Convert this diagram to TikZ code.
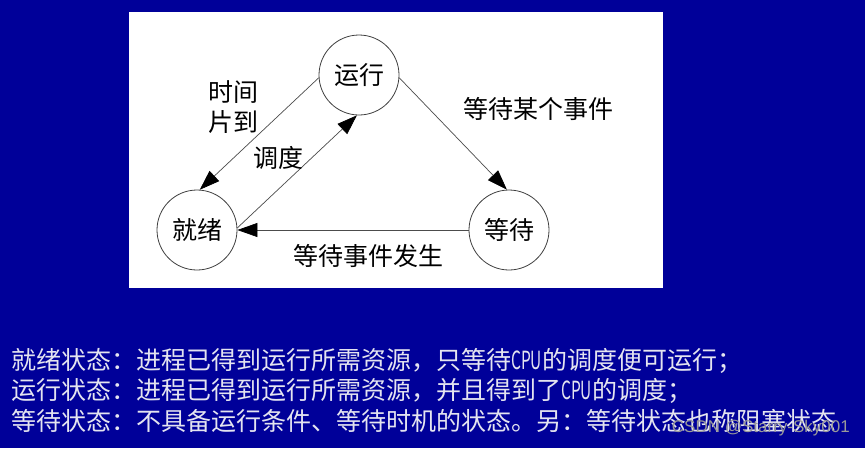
\documentclass[tikz,border=0pt]{standalone}
\usepackage{fontspec}
\setmainfont{Noto Sans CJK SC}
\newfontfamily\wmfont{Liberation Sans}
\usetikzlibrary{arrows.meta}
\definecolor{bgblue}{RGB}{0,0,153}
\definecolor{txtgray}{RGB}{228,228,240}
\newcommand{\cpu}{\scalebox{0.62}[1]{CPU}}

\begin{document}
\begin{tikzpicture}
[x=1pt,y=-1pt,
 st/.style={circle,draw=black!75,line width=0.8pt,minimum size=80pt,inner sep=0pt,font=\fontsize{25}{30}\selectfont},
 ar/.style={-{Triangle[length=20pt,width=14pt,black]},draw=black!70,line width=0.7pt},
 lb/.style={font=\fontsize{25}{30}\selectfont,align=center,inner sep=0pt},
 ln/.style={anchor=west,inner sep=0pt,text=txtgray,font=\fontsize{25}{30}\selectfont}]
\useasboundingbox (0,0) rectangle (865,448);
\fill [bgblue] (0,0) rectangle (865,448);
\fill [white] (129,12) rectangle (663,288);

% states
\node [st] at (359,75) (run) {运行};
\node [st] at (197,230) (ready) {就绪};
\node [st] at (509,230) (wait) {等待};

% transitions
\draw [ar] (run.-4) -- (wait.93);
\draw [ar] (wait.180) -- (ready.0);
\draw [ar] (run.184) -- (ready.86);
\draw [ar] (ready.3) -- (run.267);

\node [lb] at (233,107) (slice) {时间\\片到};
\node [lb] at (278,158) (sched) {调度};
\node [lb] at (538,109) (block) {等待某个事件};
\node [lb] at (368,256) (wake) {等待事件发生};

% notes
\node [ln] at (11,361) (n1) {就绪状态：进程已得到运行所需资源，只等待\cpu 的调度便可运行；};
\node [ln] at (11,391) (n2) {运行状态：进程已得到运行所需资源，并且得到了\cpu 的调度；};
\node [ln] at (11,421) (n3) {等待状态：不具备运行条件、等待时机的状态。另：等待状态也称阻塞状态};

\node [anchor=east,inner sep=0pt,text=black!40,font=\wmfont\fontsize{17}{20}\selectfont] at (850,428) (wm) {CSDN @Starry-Sky001};
\end{tikzpicture}
\end{document}
